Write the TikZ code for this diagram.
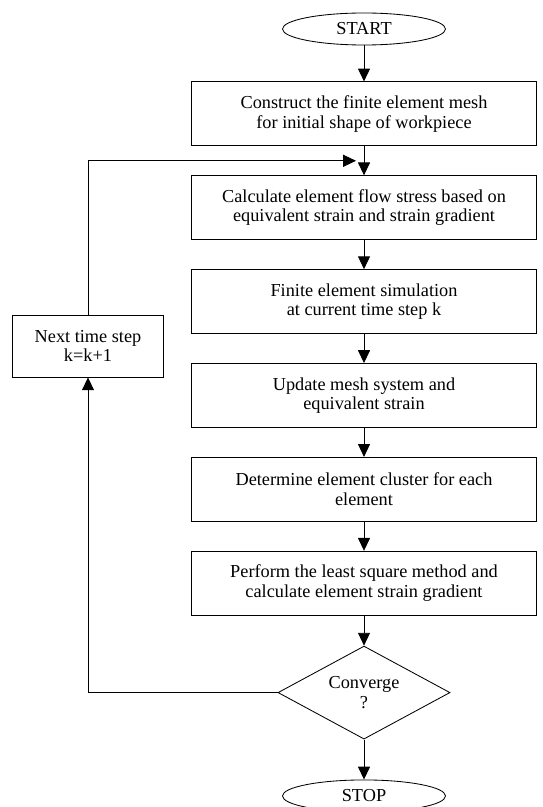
\documentclass[tikz,border=0pt]{standalone}
\usepackage{fontspec}
\setmainfont{Liberation Serif}
\usetikzlibrary{positioning,shapes.geometric,arrows.meta}
\tikzset{
	stepbox/.style={draw, minimum width=8.625cm, minimum height=1.6cm, align=center, font=\fontsize{13}{13.8}\selectfont},
	termbox/.style={draw, ellipse, inner sep=0pt, minimum width=4.075cm, minimum height=0.8cm, font=\fontsize{13}{13.8}\selectfont},
	testbox/.style={draw, diamond, aspect=1.85, inner sep=0pt, minimum width=4.3cm, minimum height=2.325cm, align=center, font=\fontsize{13}{13.8}\selectfont}
}
\begin{document}
\begin{tikzpicture}[x=0.025cm, y=-0.025cm, line width=0.6pt, >={Triangle[width=0.3cm,length=0.32cm]}]
	\useasboundingbox (0,0) rectangle (543,807);
	\node[termbox] (start) at (364,29) {START};
	\node[stepbox, below=0.9cm of start] (mesh) {Construct the finite element mesh\\for initial shape of workpiece};
	\node[stepbox, below=0.725cm of mesh] (flow) {Calculate element flow stress based on\\equivalent strain and strain gradient};
	\node[stepbox, below=0.725cm of flow] (sim) {Finite element simulation\\at current time step k};
	\node[stepbox, below=0.725cm of sim] (update) {Update mesh system and\\equivalent strain};
	\node[stepbox, below=0.725cm of update] (cluster) {Determine element cluster for each\\element};
	\node[stepbox, below=0.725cm of cluster] (lsq) {Perform the least square method and\\calculate element strain gradient};
	\node[testbox, below=0.75cm of lsq] (conv) {Converge\\?};
	\node[termbox, below=1cm of conv] (stop) {STOP};
	\node[stepbox, minimum width=3.775cm, minimum height=1.55cm] (next) at (88,346) {Next time step\\k=k+1};
	\path (mesh.south) -- (flow.north) coordinate[midway] (merge);
	\draw[->] (start) -- (mesh);
	\draw[->] (mesh) -- (flow);
	\draw[->] (flow) -- (sim);
	\draw[->] (sim) -- (update);
	\draw[->] (update) -- (cluster);
	\draw[->] (cluster) -- (lsq);
	\draw[->] (lsq) -- (conv);
	\draw[->] (conv) -- (stop);
	\draw[->] (conv.west) -| (next.south);
	\draw[->] (next.north) |- ([xshift=-0.2cm]merge);
\end{tikzpicture}
\end{document}
